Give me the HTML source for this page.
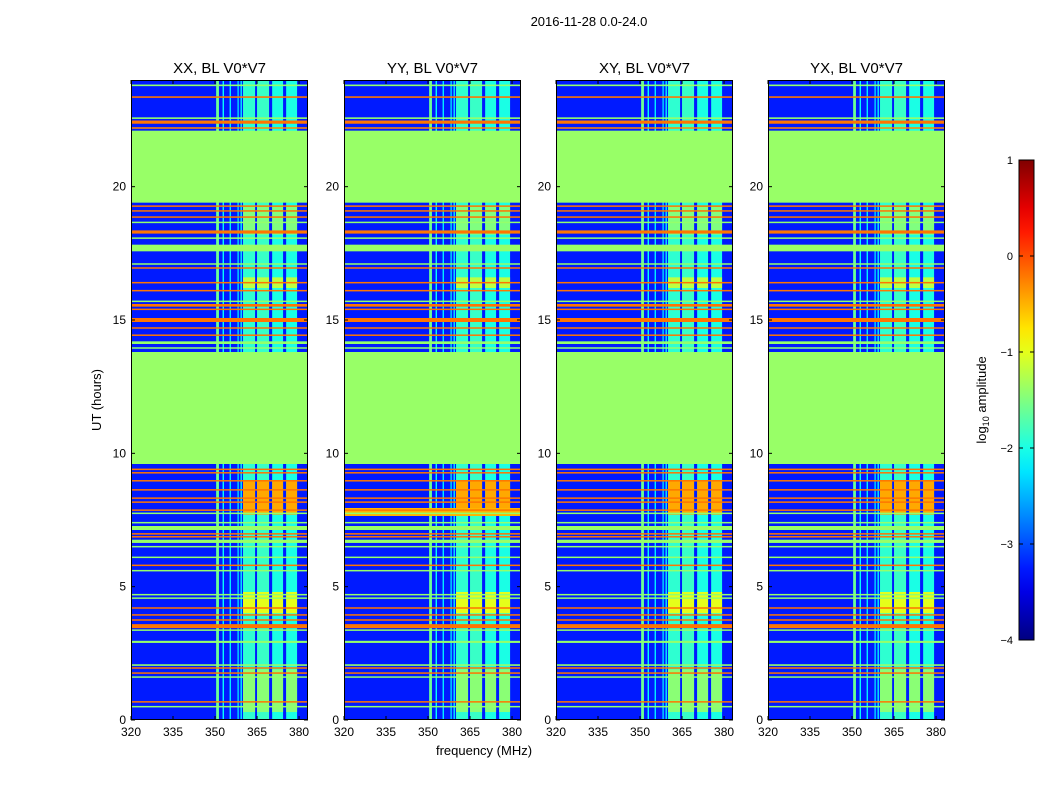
<!DOCTYPE html>
<html><head><meta charset="utf-8">
<style>
html,body{margin:0;padding:0;background:#fff;}
svg text{font-family:"Liberation Sans",sans-serif;}
</style></head>
<body>
<svg id="fig" width="1050" height="800" xmlns="http://www.w3.org/2000/svg">
<rect width="1050" height="800" fill="#fff"/>
<text x="589" y="26" font-size="13" text-anchor="middle">2016-11-28 0.0-24.0</text>
<text x="484" y="755" font-size="13" text-anchor="middle">frequency (MHz)</text>
<text transform="translate(101,400) rotate(-90)" font-size="13" text-anchor="middle">UT (hours)</text>
<g id="panels"></g>
<g id="cbar"></g>
</svg>
<script>
const panelTitles = ["XX, BL V0*V7","YY, BL V0*V7","XY, BL V0*V7","YX, BL V0*V7"];
const xTicks = [320,335,350,365,380];
const yTicks = [0,5,10,15,20];
const cbarTicks = [-4,-3,-2,-1,0,1];
const flaggedStart = [9.6,19.4];
const flaggedEnd = [13.8,22.1];
const flaggedValue = -1.38;
const backgroundValue = -3.25;
// frequency bands (MHz) that are bright outside flagged rows
const bandStart = [350.4,352.7,355.2,358.0,359.1,360.0,365.0,370.4,375.4];
const bandEnd   = [351.4,353.2,355.7,358.5,359.6,364.3,369.3,374.3,379.3];
const bandValue = [-1.6,-2.1,-2.2,-2.3,-2.2,-1.9,-1.85,-2.0,-2.0];
// bright patches: [t0,t1] within bands 5..8
const patchT0 = [7.7,4.0,0.3,16.2,18.2];
const patchT1 = [9.0,4.8,1.9,16.6,19.3];
const patchValue = [-0.45,-1.0,-1.45,-1.2,-1.5];
// horizontal RFI lines: time (h), value
const lineTimes = [23.8,23.36,22.57,22.42,22.2,19.27,19.09,18.86,18.66,18.3,18.07,17.7,17.1,16.95,16.4,16.1,15.7,15.55,15.4,15.0,14.7,14.43,14.15,13.95,
  9.4,9.27,8.97,8.63,8.32,8.17,7.87,7.75,7.4,7.2,6.98,6.87,6.7,6.5,6.1,5.8,5.6,4.7,4.57,4.2,3.94,3.75,3.52,3.37,2.93,2.06,1.95,1.76,1.61,0.68,0.5];
const lineValues = [-1.4,-0.2,-1.4,-0.2,-0.3,-0.2,-0.2,-0.2,-1.4,-0.2,-1.4,-1.38,-1.4,-0.2,-0.2,-0.2,-1.4,-0.2,-0.2,-0.2,-0.2,-0.2,-1.4,-1.4,
  -0.2,-0.2,-0.2,-0.2,-0.2,-0.2,-0.2,-1.4,-1.4,-1.38,-0.2,-0.2,-1.38,-1.4,-1.4,-0.2,-1.4,-1.4,-1.4,-0.2,-0.2,-0.2,-0.2,-1.4,-1.4,-1.4,-0.2,-0.2,-1.4,-0.2,-1.4];
const lineWidthH = [0.06,0.06,0.06,0.12,0.05,0.05,0.05,0.05,0.05,0.12,0.05,0.25,0.05,0.05,0.05,0.05,0.05,0.1,0.05,0.15,0.05,0.05,0.1,0.05,
  0.05,0.05,0.05,0.05,0.05,0.05,0.05,0.05,0.05,0.15,0.05,0.05,0.12,0.05,0.05,0.05,0.05,0.05,0.05,0.05,0.05,0.05,0.15,0.05,0.08,0.06,0.05,0.05,0.05,0.05,0.05];
// panel-specific extra band (YY has a broad band near 7.8h)
const extraPanel = [1];
const extraT0 = [7.65];
const extraT1 = [7.95];
const extraValue = [-0.5];

const panelX = [131,344,556,768], PW=177, PT=80, PB=720;
const fMin=320, fMax=383.2, tMin=0, tMax=24;
function jet(v){const t=Math.max(0,Math.min(1,(v+4)/5));const c=x=>Math.round(255*Math.max(0,Math.min(1,x)));
  return `rgb(${c(1.5-Math.abs(4*t-3))},${c(1.5-Math.abs(4*t-2))},${c(1.5-Math.abs(4*t-1))})`;}
const NS="http://www.w3.org/2000/svg";
function el(tag,attrs,parent){const e=document.createElementNS(NS,tag);for(const k in attrs)e.setAttribute(k,attrs[k]);parent.appendChild(e);return e;}
const panels=document.getElementById('panels');
panelTitles.forEach((title,p)=>{
  const x0=panelX[p];
  const xs=f=>x0+(f-fMin)/(fMax-fMin)*PW;
  const ys=t=>PB-(t-tMin)/(tMax-tMin)*(PB-PT);
  const g=el('g',{},panels);
  
  
  const bg=el('rect',{x:x0,y:PT,width:PW,height:PB-PT,fill:jet(backgroundValue)},g);
  
  
  bandStart.forEach((f0,i)=>{const r=el('rect',{x:xs(f0),y:PT,width:xs(bandEnd[i])-xs(f0),height:PB-PT,fill:jet(bandValue[i])},g);
    
    });
  patchT0.forEach((t0,i)=>{for(let b=5;b<9;b++){const r=el('rect',{x:xs(bandStart[b]),y:ys(patchT1[i]),width:xs(bandEnd[b])-xs(bandStart[b]),height:ys(t0)-ys(patchT1[i]),fill:jet(patchValue[i])},g);
    
    }});
  extraPanel.forEach((pp,i)=>{if(pp!==p)return;const r=el('rect',{x:x0,y:ys(extraT1[i]),width:PW,height:ys(extraT0[i])-ys(extraT1[i]),fill:jet(extraValue[i])},g);
    
    });
  lineTimes.forEach((t,i)=>{const h=Math.max(1.5,lineWidthH[i]*(PB-PT)/24);const r=el('rect',{x:x0,y:ys(t)-h/2,width:PW,height:h,fill:jet(lineValues[i])},g);
    
    });
  flaggedStart.forEach((t0,i)=>{const r=el('rect',{x:x0,y:ys(flaggedEnd[i]),width:PW,height:ys(t0)-ys(flaggedEnd[i]),fill:jet(flaggedValue)},g);
    
    });
  const fr=el('rect',{x:x0+0.5,y:PT+0.5,width:PW-1,height:PB-PT-1,fill:'none',stroke:'#000','stroke-width':1},g);
  
  
  const tt=el('text',{x:x0+PW/2,y:PT-7,'font-size':15,'text-anchor':'middle'},g);tt.textContent=title;
  
  
  xTicks.forEach(f=>{const x=xs(f);el('line',{x1:x,x2:x,y1:PB,y2:PB-4,stroke:'#000'},g);el('line',{x1:x,x2:x,y1:PT,y2:PT+4,stroke:'#000'},g);
    const l=el('text',{x:x,y:PB+16,'font-size':12,'text-anchor':'middle'},g);l.textContent=f;
    
    });
  yTicks.forEach(t=>{const y=ys(t);el('line',{x1:x0,x2:x0+4,y1:y,y2:y,stroke:'#000'},g);el('line',{x1:x0+PW,x2:x0+PW-4,y1:y,y2:y,stroke:'#000'},g);
    const l=el('text',{x:x0-5,y:y+4,'font-size':12,'text-anchor':'end'},g);l.textContent=t;
    
    });
});
// colorbar
const cb=document.getElementById('cbar');
const CX=1019,CW=15,CT=160,CB=640;
const defs=el('defs',{},cb);const gr=el('linearGradient',{id:'jetg',x1:0,y1:1,x2:0,y2:0},defs);
for(let i=0;i<=20;i++){el('stop',{offset:i/20,'stop-color':jet(-4+5*i/20)},gr);}
el('rect',{x:CX,y:CT,width:CW,height:CB-CT,fill:'url(#jetg)',stroke:'#000','stroke-width':1},cb);
const cys=v=>CB-(v+4)/5*(CB-CT);
cbarTicks.forEach(v=>{const y=cys(v);el('line',{x1:CX,x2:CX+4,y1:y,y2:y,stroke:'#000'},cb);el('line',{x1:CX+CW,x2:CX+CW-4,y1:y,y2:y,stroke:'#000'},cb);
  const l=el('text',{x:CX-6,y:y+4,'font-size':11,'text-anchor':'end'},cb);l.textContent=(v<0?'\u2212'+(-v):v);
  
  });
const cl=el('text',{transform:'translate(986,400) rotate(-90)','font-size':13,'text-anchor':'middle'},cb);
cl.innerHTML='log<tspan font-size="9" dy="3">10</tspan><tspan dy="-3"> amplitude</tspan>';


</script>
</body></html>
